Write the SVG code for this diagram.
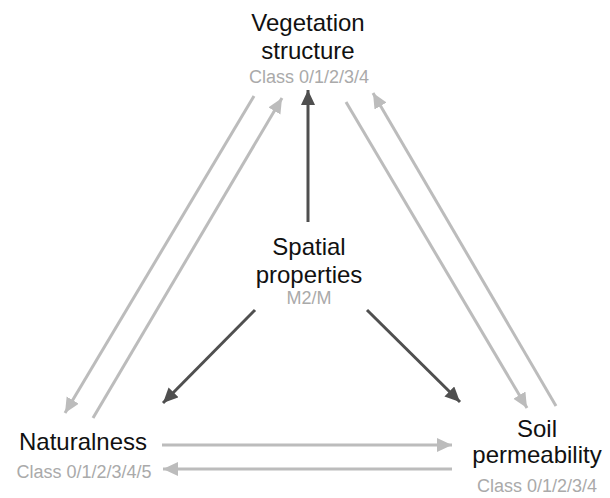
<svg xmlns="http://www.w3.org/2000/svg" width="610" height="498" viewBox="0 0 610 498">
<style>
.t{font-family:"Liberation Sans",Arial,sans-serif;font-size:24px;fill:#111;text-anchor:middle}
.s{font-family:"Liberation Sans",Arial,sans-serif;font-size:18px;fill:#aaaaaa;text-anchor:middle}
.g{stroke:#bcbcbc;stroke-width:3;fill:none}
.d{stroke:#4f4f4f;stroke-width:3;fill:none}
</style>
<defs>
<marker id="ag" markerUnits="userSpaceOnUse" markerWidth="16" markerHeight="16" refX="15" refY="7" orient="auto">
<path d="M0,0 L15,7 L0,14 Z" fill="#bcbcbc"/>
</marker>
<marker id="ad" markerUnits="userSpaceOnUse" markerWidth="16" markerHeight="16" refX="15" refY="7" orient="auto">
<path d="M0,0 L15,7 L0,14 Z" fill="#4f4f4f"/>
</marker>
</defs>
<rect width="610" height="498" fill="#fff"/>
<g id="connectors">
<line class="g" x1="254" y1="96" x2="65" y2="413" marker-end="url(#ag)"/>
<line class="g" x1="93" y1="418" x2="282" y2="98" marker-end="url(#ag)"/>
<line class="g" x1="346" y1="102" x2="527" y2="408" marker-end="url(#ag)"/>
<line class="g" x1="556" y1="406" x2="373" y2="93" marker-end="url(#ag)"/>
<line class="g" x1="162" y1="445" x2="452" y2="445" marker-end="url(#ag)"/>
<line class="g" x1="452" y1="469" x2="163" y2="469" marker-end="url(#ag)"/>
<line class="d" x1="308" y1="222" x2="308" y2="90" marker-end="url(#ad)"/>
<line class="d" x1="255" y1="310" x2="163" y2="403" marker-end="url(#ad)"/>
<line class="d" x1="367" y1="310" x2="460" y2="402" marker-end="url(#ad)"/>
</g>
<g id="vegetation">
<text class="t" x="308" y="31">Vegetation</text>
<text class="t" x="308" y="59">structure</text>
<text class="s" x="309" y="83">Class 0/1/2/3/4</text>
</g>
<g id="spatial">
<text class="t" x="309" y="255">Spatial</text>
<text class="t" x="309" y="283">properties</text>
<text class="s" x="309" y="304">M2/M</text>
</g>
<g id="naturalness">
<text class="t" x="83" y="450">Naturalness</text>
<text class="s" x="84" y="478">Class 0/1/2/3/4/5</text>
</g>
<g id="soil">
<text class="t" x="537" y="437">Soil</text>
<text class="t" x="537" y="463">permeability</text>
<text class="s" x="537" y="492">Class 0/1/2/3/4</text>
</g>
</svg>
